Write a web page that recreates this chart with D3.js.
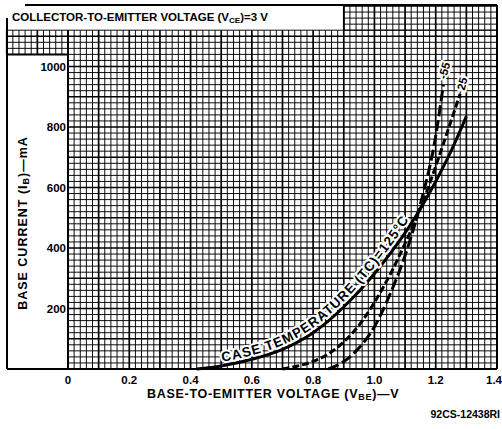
<!DOCTYPE html>
<html><head><meta charset="utf-8">
<script src="https://cdn.jsdelivr.net/npm/d3@7"></script>
<style>
html,body{margin:0;padding:0;background:#fff;}
svg{display:block;}
text{font-family:"Liberation Sans","DejaVu Sans",sans-serif;font-weight:bold;fill:#000;}
</style></head>
<body>
<svg id="c" width="502" height="429"></svg>
<script>
// ---- data ----
const xTicks = [0, 0.2, 0.4, 0.6, 0.8, 1.0, 1.2, 1.4];
const xTickLabels = ["0", "0.2", "0.4", "0.6", "0.8", "1.0", "1.2", "1.4"];
const yTicks = [200, 400, 600, 800, 1000];
const yTickLabels = ["200", "400", "600", "800", "1000"];

const vbe125 = [0.42, 0.50, 0.60, 0.70, 0.80, 0.90, 1.00, 1.05, 1.10, 1.15, 1.20, 1.25, 1.30];
const ib125  = [0,    10,   32,   65,   120,  205,  315,  380,  450,  530,  620,  720,  835];
const vbe25  = [0.70, 0.75, 0.80, 0.85, 0.90, 0.95, 1.00, 1.05, 1.10, 1.15, 1.20, 1.25, 1.28];
const ib25   = [0,    10,   25,   50,   90,   145,  220,  310,  415,  530,  670,  820,  910];
const vbe55  = [0.85, 0.90, 0.95, 1.00, 1.05, 1.10, 1.15, 1.20, 1.225];
const ib55   = [0,    25,   70,   140,  245,  375,  545,  770,  940];

const seriesNames = ["125", "25", "-55"];

// ---- scales ----
const svg = d3.select("#c");
const x = d3.scaleLinear().domain([0, 1.4]).range([68, 497]);
const y = d3.scaleLinear().domain([0, 1000]).range([369, 66.5]);

// ---- grid ----
const g = svg.append("g");
function vlines(v0, v1, i0, i1) {
  const vs = d3.range(Math.round(v0 / 0.02), Math.round(v1 / 0.02) + 1).map(k => k * 0.02);
  g.selectAll(null).data(vs).enter().append("line")
    .attr("x1", d => x(d)).attr("x2", d => x(d))
    .attr("y1", y(i0)).attr("y2", y(i1))
    .attr("stroke", "#000")
    .attr("stroke-width", (d) => (Math.round(d / 0.02) % 5 === 0 ? 1.7 : 0.95));
}
function hlines(v0, v1, i0, i1) {
  const is = d3.range(Math.round(i0 / 20), Math.round(i1 / 20) + 1).map(k => k * 20);
  g.selectAll(null).data(is).enter().append("line")
    .attr("x1", x(v0)).attr("x2", x(v1))
    .attr("y1", d => y(d)).attr("y2", d => y(d))
    .attr("stroke", "#000")
    .attr("stroke-width", (d) => (Math.round(d / 20) % 5 === 0 ? 1.7 : 0.95));
}
vlines(0, 1.4, 0, 1120);
hlines(0, 1.4, 0, 1120);
vlines(0.9, 1.4, 1120, 1200);
hlines(0.9, 1.4, 1120, 1200);
vlines(-0.2, 0, 1040, 1120);
hlines(-0.2, 0, 1040, 1120);

// frame lines
const frame = svg.append("g").attr("stroke", "#000").attr("fill", "none");
frame.append("line").attr("x1", 7).attr("x2", 7).attr("y1", 18).attr("y2", y(0)).attr("stroke-width", 2);
frame.append("line").attr("x1", 7).attr("x2", x(1.4)).attr("y1", y(0)).attr("y2", y(0)).attr("stroke-width", 2);
frame.append("line").attr("x1", 25).attr("x2", x(1.4)).attr("y1", 5).attr("y2", 5).attr("stroke-width", 2);
frame.append("line").attr("x1", x(1.4)).attr("x2", x(1.4)).attr("y1", 5).attr("y2", y(0)).attr("stroke-width", 2);
frame.append("line").attr("x1", x(0)).attr("x2", x(0)).attr("y1", y(1040)).attr("y2", y(0)).attr("stroke-width", 2);
frame.append("line").attr("x1", 7).attr("x2", x(0)).attr("y1", y(1040)).attr("y2", y(1040)).attr("stroke-width", 2);
frame.append("line").attr("x1", x(0.9)).attr("x2", x(0.9)).attr("y1", 5).attr("y2", y(1120)).attr("stroke-width", 1.6);

// title
const t = svg.append("text").attr("x", 12).attr("y", 21).attr("font-size", 11.5);
t.append("tspan").text("COLLECTOR-TO-EMITTER VOLTAGE (V");
t.append("tspan").attr("font-size", 8).attr("dy", 2).text("CE");
t.append("tspan").attr("dy", -2).text(")=3 V");

// ---- curves ----
const line = d3.line().x(d => x(d[0])).y(d => y(d[1])).curve(d3.curveMonotoneX);
const series = [
  {name: seriesNames[0], v: vbe125, i: ib125, dash: null},
  {name: seriesNames[1], v: vbe25, i: ib25, dash: "7,3"},
  {name: seriesNames[2], v: vbe55, i: ib55, dash: "11,4"}
];
series.forEach(s => {
  const pts = s.v.map((v, k) => [v, s.i[k]]);
  svg.append("path").attr("d", line(pts)).attr("fill", "none")
    .attr("stroke", "#000").attr("stroke-width", 3)
    .attr("stroke-dasharray", s.dash);
});

// curve label along the 125 C curve: path offset along the normal in pixel space
const px125 = vbe125.map((v, k) => [x(v), y(ib125[k])]).filter((p, k) => vbe125[k] >= 0.48 && vbe125[k] <= 1.25);
const offPts = px125.map((p, k) => {
  const a = px125[Math.max(0, k - 1)], b = px125[Math.min(px125.length - 1, k + 1)];
  const dx = b[0] - a[0], dy = b[1] - a[1], L = Math.hypot(dx, dy);
  return [p[0] + dy / L * 4, p[1] - dx / L * 4];
});
svg.append("defs").append("path").attr("id", "lblpath")
  .attr("d", d3.line().curve(d3.curveMonotoneX)(offPts));
svg.append("text").attr("font-size", 13.5).attr("letter-spacing", 0.9)
  .attr("stroke", "#fff").attr("stroke-width", 4).attr("paint-order", "stroke").attr("stroke-linejoin", "round")
  .append("textPath").attr("href", "#lblpath").attr("startOffset", 2)
  .text("CASE TEMPERATURE (TC)=125°C");

// -55 and 25 labels above the top ends of their curves
[[seriesNames[2], vbe55, ib55, 1, -14], [seriesNames[1], vbe25, ib25, 2, -10]].forEach(([nm, vv, ii, dx, dy]) => {
  const n = vv.length - 1;
  const px = x(vv[n]) + dx, py = y(ii[n]) + dy;
  svg.append("text").attr("font-size", 11.5)
    .attr("transform", `translate(${px},${py}) rotate(-75)`)
    .attr("text-anchor", "middle").attr("dy", 4)
    .attr("stroke", "#fff").attr("stroke-width", 4).attr("paint-order", "stroke")
    .text(nm);
});

// ---- axes labels ----
svg.append("g").selectAll("text").data(xTicks).enter().append("text")
  .attr("x", (d, k) => k === xTicks.length - 1 ? 502 : x(d)).attr("y", 384)
  .attr("text-anchor", (d, k) => k === xTicks.length - 1 ? "end" : "middle").attr("font-size", 11.5)
  .text((d, k) => xTickLabels[k]);
svg.append("g").selectAll("text").data(yTicks).enter().append("text")
  .attr("x", x(0) - 2).attr("y", d => y(d) + 4).attr("text-anchor", "end").attr("font-size", 11.5)
  .text((d, k) => yTickLabels[k]);

const xt = svg.append("text").attr("x", 147).attr("y", 398).attr("font-size", 12.5).attr("letter-spacing", 0.7);
xt.append("tspan").text("BASE-TO-EMITTER VOLTAGE (V");
xt.append("tspan").attr("font-size", 9).attr("dy", 2).text("BE");
xt.append("tspan").attr("dy", -2).text(")—V");

const yt = svg.append("text").attr("transform", "translate(27,223) rotate(-90)")
  .attr("text-anchor", "middle").attr("font-size", 12.5).attr("letter-spacing", 1.0);
yt.append("tspan").text("BASE CURRENT (I");
yt.append("tspan").attr("font-size", 9).attr("dy", 2).text("B");
yt.append("tspan").attr("dy", -2).text(")—mA");

svg.append("text").attr("x", 500).attr("y", 418).attr("text-anchor", "end").attr("font-size", 10.5).text("92CS-12438RI");
</script>
</body></html>
